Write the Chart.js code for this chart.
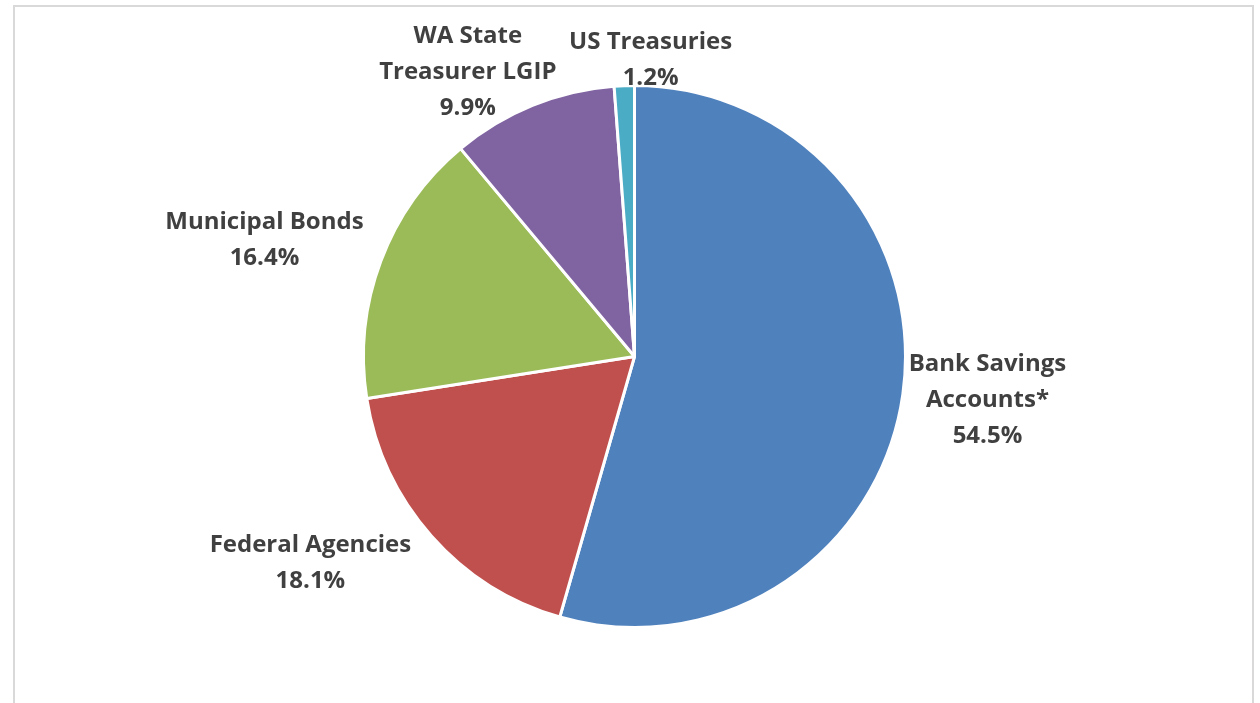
<!DOCTYPE html>
<html>
<head>
<meta charset="utf-8">
<script src="https://cdn.jsdelivr.net/npm/chart.js@4.4.1/dist/chart.umd.min.js"></script>
<style>
  html, body { margin: 0; padding: 0; background: #fff; }
  #wrap { position: relative; width: 1260px; height: 703px; }
  #frame { position: absolute; left: 13px; top: 5px; width: 1241px; height: 720px;
           border: 2px solid #d9d9d9; border-bottom: none; box-sizing: border-box; }
  canvas { position: absolute; left: 0; top: 0; }
</style>
</head>
<body>
<div id="wrap">
  <div id="frame"></div>
  <canvas id="pie" width="1260" height="703"></canvas>
</div>
<script>
// categories (multi-line as shown on the chart) and shares in percent
const categories = [
  ['Bank Savings', 'Accounts*'],
  ['Federal Agencies'],
  ['Municipal Bonds'],
  ['WA State', 'Treasurer LGIP'],
  ['US Treasuries']
];
const shares = [54.5, 18.1, 16.4, 9.9, 1.2];
const sliceColors = ['#4f81bd', '#c0504d', '#9bbb59', '#8064a2', '#4bacc6'];

// nudges applied to the automatic outside label placement
const labelShift = [[-6, -7], [-42, -42], [-12, 18], [-31, 50], [28, 19]];

const outsideLabels = {
  id: 'outsideLabels',
  afterDatasetsDraw(chart) {
    const ctx = chart.ctx;
    const meta = chart.getDatasetMeta(0);
    const font = 'bold 24px "Open Sans"';
    const lineH = 36;
    ctx.save();
    ctx.font = font;
    ctx.fillStyle = '#404040';
    ctx.textAlign = 'center';
    ctx.textBaseline = 'middle';
    meta.data.forEach((arc, i) => {
      const p = arc.getProps(['x', 'y', 'startAngle', 'endAngle', 'outerRadius'], true);
      const mid = (p.startAngle + p.endAngle) / 2;
      const cos = Math.cos(mid), sin = Math.sin(mid);
      const lines = categories[i].concat([shares[i].toFixed(1) + '%']);
      const w = Math.max(...lines.map(t => ctx.measureText(t).width));
      const h = lines.length * lineH;
      const proj = Math.abs(cos) * w / 2 + Math.abs(sin) * h / 2;
      const d = p.outerRadius + 6 + proj;
      const cx = p.x + cos * d + labelShift[i][0];
      const cy = p.y + sin * d + labelShift[i][1];
      lines.forEach((t, k) => {
        ctx.fillText(t, cx, cy - h / 2 + lineH * (k + 0.5));
      });
    });
    ctx.restore();
  }
};

new Chart(document.getElementById('pie'), {
  type: 'pie',
  data: {
    labels: categories,
    datasets: [{
      data: shares,
      backgroundColor: sliceColors,
      borderColor: '#ffffff',
      borderWidth: 3
    }]
  },
  options: {
    responsive: false,
    animation: false,
    layout: { padding: { left: 362, right: 353, top: 83, bottom: 73 } },
    plugins: {
      legend: { display: false },
      tooltip: { enabled: false }
    }
  },
  plugins: [outsideLabels]
});
</script>
</body>
</html>
